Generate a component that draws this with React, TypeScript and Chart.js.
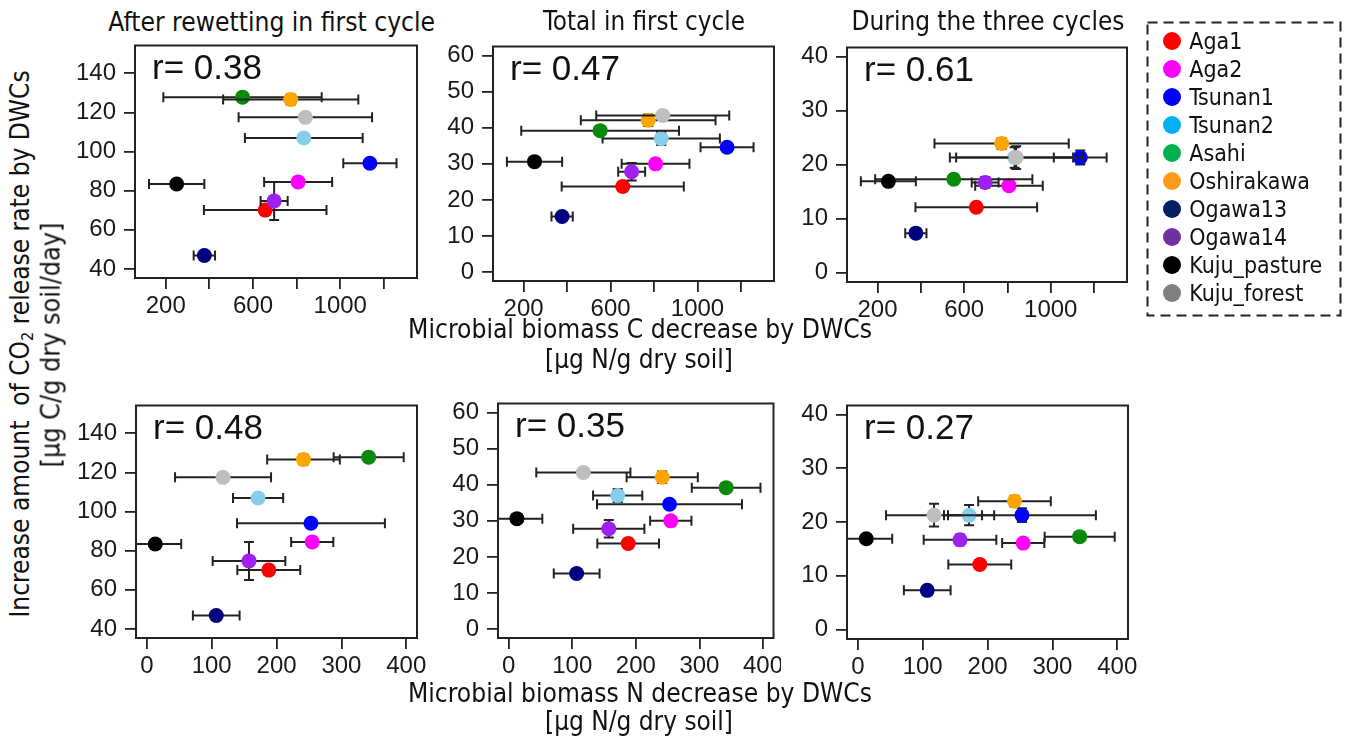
import React, { useEffect, useRef } from 'react';
import { Chart, registerables } from 'chart.js';

Chart.register(...registerables);

// ---------------- DATA ----------------
const SITES = ['Aga1', 'Aga2', 'Tsunan1', 'Tsunan2', 'Asahi', 'Oshirakawa', 'Ogawa13', 'Ogawa14', 'Kuju_pasture', 'Kuju_forest'];
const POINT_COLORS = ['#FF0000', '#FF00FF', '#0000FF', '#87CEEB', '#0A8A0A', '#FFA500', '#000080', '#A020F0', '#000000', '#BEBEBE'];
const LEGEND_COLORS = ['#FF0000', '#FF00FF', '#0000FF', '#00B0F0', '#00B050', '#FF9A1A', '#002060', '#7030A0', '#000000', '#808080'];

// Microbial biomass C decrease (x, top row) and N decrease (x, bottom row)
const MBC_X = [656, 807, 1136, 833, 552, 773, 377, 697, 250, 840];
const MBC_XERR = [281, 156, 122, 270, 363, 310, 49, 62, 127, 306];
const MBN_X = [188, 255, 253, 171.5, 342, 241.5, 107, 157.5, 13, 117.5];
const MBN_XERR = [48.5, 32.5, 114, 38.7, 54, 56, 36, 56, 40, 74];

// CO2 release (y) per column
const CO2_AFTER = [70.1, 84.5, 94.0, 106.9, 127.8, 126.6, 46.9, 74.8, 83.4, 117.5];
const CO2_AFTER_ERR = [2.5, 1.5, 2, 2, 1, 2.5, 2, 9.7, 1.5, 2];
const CO2_TOTAL = [23.7, 30.0, 34.6, 37.0, 39.2, 42.1, 15.4, 27.8, 30.6, 43.4];
const CO2_TOTAL_ERR = [1.3, 0.8, 1, 1.8, 0.8, 1.6, 1, 2.4, 0.8, 1.2];
const CO2_THREE = [12.1, 16.1, 21.3, 21.3, 17.3, 23.9, 7.3, 16.7, 16.9, 21.3];
const CO2_THREE_ERR = [0.8, 0.7, 1.3, 1.9, 0.8, 1.0, 0.8, 1.0, 0.7, 2.1];

const COL_TITLES = ['After rewetting in first cycle', 'Total in first cycle', 'During the three cycles'];
const R_TOP = ['0.38', '0.47', '0.61'];
const R_BOTTOM = ['0.48', '0.35', '0.27'];

const C_TICK_STEP = 200;
const C_TICK_LABELS = [200, 600, 1000];
const N_TICK_STEP = 100;
const N_TICK_LABELS = [0, 100, 200, 300, 400];
const Y_TICK_STEPS = [20, 10, 10];

// ---------------- LAYOUT ----------------
const PADL = 80;
const PADT = 4;
const PADB = 50;
const CAP = 5;
const TAHOMA = "'DejaVu Sans Condensed', 'DejaVu Sans', sans-serif";
const ARIAL = "'Liberation Sans', Arial, sans-serif";

const C_RANGE = [59, 1352];
const N_RANGE = [-16.7, 416.5];
const Y_RANGES = [[35.4, 154.2], [-2.5, 62.55], [-1.75, 41.7]];

const BOXES = [
  [135, 42, 417, 278],
  [493, 43, 774, 281],
  [847, 44, 1127, 282],
  [136, 402, 417, 638],
  [498, 400, 779, 638],
  [847, 402, 1128, 639],
];
const PAD_R = [14, 14, 14, 14, 2, 14];

let measureCtx: CanvasRenderingContext2D | null = null;
function fitSize(text: string, family: string, target: number): number {
  if (!measureCtx) measureCtx = document.createElement('canvas').getContext('2d');
  if (!measureCtx) return 20;
  measureCtx.font = `100px ${family}`;
  const w = measureCtx.measureText(text).width || 1;
  return (100 * target) / w;
}

type PanelProps = {
  box: number[];
  padR: number;
  xs: number[];
  xe: number[];
  ys: number[];
  ye: number[];
  xRange: number[];
  xStep: number;
  xLabels: number[];
  yRange: number[];
  yStep: number;
  rText: string;
};

function Panel(p: PanelProps) {
  const ref = useRef<HTMLCanvasElement>(null);
  const [l, t, r, b] = p.box;
  const W = r - l + PADL + p.padR;
  const H = b - t + PADT + PADB;

  useEffect(() => {
    if (!ref.current) return;
    const deco = {
      id: 'deco',
      beforeDatasetDraw(chart: any, args: any) {
        const i = args.index;
        const { ctx, chartArea: ca, scales } = chart;
        const sx = scales.x;
        const sy = scales.y;
        const px = sx.getPixelForValue(p.xs[i]);
        const py = sy.getPixelForValue(p.ys[i]);
        const x0 = sx.getPixelForValue(p.xs[i] - p.xe[i]);
        const x1 = sx.getPixelForValue(p.xs[i] + p.xe[i]);
        const y0 = sy.getPixelForValue(p.ys[i] - p.ye[i]);
        const y1 = sy.getPixelForValue(p.ys[i] + p.ye[i]);
        ctx.save();
        ctx.beginPath();
        ctx.rect(ca.left, ca.top, ca.right - ca.left, ca.bottom - ca.top);
        ctx.clip();
        ctx.strokeStyle = '#222';
        ctx.lineWidth = 2;
        ctx.beginPath();
        ctx.moveTo(x0, py);
        ctx.lineTo(x1, py);
        ctx.moveTo(x0, py - CAP);
        ctx.lineTo(x0, py + CAP);
        ctx.moveTo(x1, py - CAP);
        ctx.lineTo(x1, py + CAP);
        if (Math.abs(y1 - y0) > 1) {
          ctx.moveTo(px, y0);
          ctx.lineTo(px, y1);
          ctx.moveTo(px - CAP, y0);
          ctx.lineTo(px + CAP, y0);
          ctx.moveTo(px - CAP, y1);
          ctx.lineTo(px + CAP, y1);
        }
        ctx.stroke();
        ctx.restore();
      },
      afterDraw(chart: any) {
        const { ctx, chartArea: ca } = chart;
        ctx.save();
        ctx.strokeStyle = '#222';
        ctx.lineWidth = 2;
        ctx.strokeRect(ca.left, ca.top, ca.right - ca.left, ca.bottom - ca.top);
        ctx.fillStyle = '#111';
        ctx.font = `35px ${ARIAL}`;
        ctx.textAlign = 'left';
        ctx.textBaseline = 'alphabetic';
        ctx.fillText('r= ' + p.rText, ca.left + 17, ca.top + 33.5);
        ctx.restore();
      },
    };

    const tickFont = { family: ARIAL, size: 24 };
    const grid = {
      display: true,
      drawOnChartArea: false,
      drawTicks: true,
      tickLength: 11,
      color: '#222',
      lineWidth: 1.8,
    };

    const chart = new Chart(ref.current, {
      type: 'scatter',
      data: {
        datasets: SITES.map((s, i) => ({
          label: s,
          data: [{ x: p.xs[i], y: p.ys[i] }],
          backgroundColor: POINT_COLORS[i],
          borderColor: POINT_COLORS[i],
          pointRadius: 7.5,
          pointHoverRadius: 7.5,
          pointBorderWidth: 0,
          order: SITES.length - i,
        })),
      },
      options: {
        animation: false,
        responsive: false,
        devicePixelRatio: 1,
        events: [],
        layout: { padding: { top: PADT, right: p.padR, left: 0, bottom: 0 } },
        plugins: {
          legend: { display: false },
          tooltip: { enabled: false },
          title: { display: false },
        },
        scales: {
          x: {
            type: 'linear',
            position: 'bottom',
            min: p.xRange[0],
            max: p.xRange[1],
            ticks: {
              stepSize: p.xStep,
              includeBounds: false,
              autoSkip: false,
              maxRotation: 0,
              minRotation: 0,
              padding: 3,
              color: '#1a1a1a',
              font: tickFont,
              callback: (v: any) => (p.xLabels.includes(Number(v)) ? String(v) : ''),
            },
            grid,
            border: { display: false },
            afterFit: (s: any) => {
              s.height = PADB;
              s.paddingLeft = 0;
              s.paddingRight = 0;
            },
          },
          y: {
            type: 'linear',
            position: 'left',
            min: p.yRange[0],
            max: p.yRange[1],
            ticks: {
              stepSize: p.yStep,
              includeBounds: false,
              autoSkip: false,
              padding: 8,
              color: '#1a1a1a',
              font: tickFont,
              callback: (v: any) => String(v),
            },
            grid,
            border: { display: false },
            afterFit: (s: any) => {
              s.width = PADL;
              s.paddingTop = 0;
              s.paddingBottom = 0;
            },
          },
        },
      },
      plugins: [deco],
    } as any);
    return () => chart.destroy();
  }, []);

  return (
    <canvas
      ref={ref}
      width={W}
      height={H}
      style={{ position: 'absolute', left: l - PADL, top: t - PADT, width: W, height: H }}
    />
  );
}

function Label(props: {
  text: string;
  cx: number;
  cy: number;
  width: number;
  rotate?: boolean;
  children?: React.ReactNode;
}) {
  const size = fitSize(props.text, TAHOMA, props.width);
  return (
    <div
      style={{
        position: 'absolute',
        left: props.cx,
        top: props.cy,
        transform: `translate(-50%, -50%)${props.rotate ? ' rotate(-90deg)' : ''}`,
        fontFamily: TAHOMA,
        fontSize: size,
        lineHeight: 1,
        whiteSpace: 'nowrap',
        color: '#111',
      }}
    >
      {props.children ?? props.text}
    </div>
  );
}

export default function App() {
  const ys = [CO2_AFTER, CO2_TOTAL, CO2_THREE];
  const yes = [CO2_AFTER_ERR, CO2_TOTAL_ERR, CO2_THREE_ERR];
  const panels: PanelProps[] = [];
  for (let row = 0; row < 2; row++) {
    for (let col = 0; col < 3; col++) {
      const k = row * 3 + col;
      panels.push({
        box: BOXES[k],
        padR: PAD_R[k],
        xs: row === 0 ? MBC_X : MBN_X,
        xe: row === 0 ? MBC_XERR : MBN_XERR,
        ys: ys[col],
        ye: yes[col],
        xRange: row === 0 ? C_RANGE : N_RANGE,
        xStep: row === 0 ? C_TICK_STEP : N_TICK_STEP,
        xLabels: row === 0 ? C_TICK_LABELS : N_TICK_LABELS,
        yRange: Y_RANGES[col],
        yStep: Y_TICK_STEPS[col],
        rText: row === 0 ? R_TOP[col] : R_BOTTOM[col],
      });
    }
  }
  const legendSize = fitSize('Kuju_pasture', TAHOMA, 133);
  const titlePos = [[271.7, 21.5, 327], [644, 21.5, 202], [988, 21.5, 273]];

  return (
    <div style={{ position: 'absolute', left: 0, top: 0, width: 1351, height: 744, background: '#fff', overflow: 'hidden' }}>
      {panels.map((p, k) => (
        <Panel key={k} {...p} />
      ))}
      {COL_TITLES.map((tt, i) => (
        <Label key={tt} text={tt} cx={titlePos[i][0]} cy={titlePos[i][1]} width={titlePos[i][2]} />
      ))}
      <Label text="Microbial biomass C decrease by DWCs" cx={640} cy={329} width={464} />
      <Label text="[µg N/g dry soil]" cx={639} cy={360} width={188} />
      <Label text="Microbial biomass N decrease by DWCs" cx={640} cy={693} width={464} />
      <Label text="[µg N/g dry soil]" cx={639} cy={722} width={188} />
      <Label text="Increase amount  of CO2 release rate by DWCs" cx={20} cy={343.5} width={553} rotate>
        Increase amount&nbsp; of CO
        <sub style={{ fontSize: '0.62em', verticalAlign: '-0.25em', lineHeight: 0 }}>2</sub> release rate by DWCs
      </Label>
      <Label text="[µg C/g dry soil/day]" cx={51} cy={344.5} width={245} rotate />
      <svg
        width={196}
        height={296}
        style={{ position: 'absolute', left: 1146, top: 21 }}
      >
        <rect x={1.5} y={1.5} width={193} height={293} fill="none" stroke="#222" strokeWidth={2} strokeDasharray="10 6" />
      </svg>
      {SITES.map((s, i) => {
        const cy = 41 + 28.03 * i;
        return (
          <React.Fragment key={s}>
            <div
              style={{
                position: 'absolute',
                left: 1171.7 - 9,
                top: cy - 9,
                width: 18,
                height: 18,
                borderRadius: '50%',
                background: LEGEND_COLORS[i],
              }}
            />
            <div
              style={{
                position: 'absolute',
                left: 1189.3,
                top: cy,
                transform: 'translateY(-50%)',
                fontFamily: TAHOMA,
                fontSize: legendSize,
                lineHeight: 1,
                whiteSpace: 'nowrap',
                color: '#111',
              }}
            >
              {s}
            </div>
          </React.Fragment>
        );
      })}
    </div>
  );
}
